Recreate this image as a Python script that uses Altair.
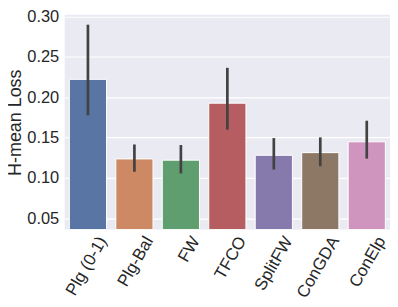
import altair as alt
import pandas as pd

methods = ["Plg (0-1)", "Plg-Bal", "FW", "TFCO", "SplitFW", "ConGDA", "ConElp"]
means = [0.222, 0.1235, 0.122, 0.1925, 0.128, 0.1313, 0.1447]
err_lo = [0.1775, 0.1076, 0.1055, 0.1598, 0.1104, 0.1145, 0.1239]
err_hi = [0.2897, 0.1414, 0.1407, 0.2363, 0.1493, 0.1502, 0.1708]
colors = ["#5975A4", "#CC8963", "#5F9E6E", "#B55D60", "#857AAB", "#8D7866", "#D095BF"]
y_ticks = [0.05, 0.10, 0.15, 0.20, 0.25, 0.30]

df = pd.DataFrame({"method": methods, "mean": means, "lo": err_lo, "hi": err_hi})

font = "Liberation Sans"
x_enc = alt.X("method:N", sort=methods,
              scale=alt.Scale(paddingInner=0.2, paddingOuter=0.1),
              axis=alt.Axis(title=None, labelAngle=-60, labelAlign="right",
                            labelBaseline="middle", labelOffset=15, labelPadding=8,
                            labelFontSize=17, labelFont=font, labelColor="#262626",
                            ticks=False, domain=False, grid=False))
y_scale = alt.Scale(domain=[0.036, 0.302], nice=False, zero=False, clamp=True)

bars = alt.Chart(df).mark_bar(stroke="white", strokeWidth=1).encode(
    x=x_enc,
    y=alt.Y("mean:Q", scale=y_scale,
            axis=alt.Axis(title="H-mean Loss", values=y_ticks, format=".2f",
                          labelFontSize=16.5, labelFont=font, labelColor="#262626",
                          titleFontSize=18, titleFont=font, titleFontWeight="normal",
                          titleColor="#262626", titlePadding=2,
                          ticks=False, domain=False, grid=True,
                          gridColor="white", gridWidth=1.2, labelPadding=6)),
    y2=alt.datum(0.036),
    color=alt.Color("method:N", sort=methods,
                    scale=alt.Scale(domain=methods, range=colors), legend=None),
)

errs = alt.Chart(df).mark_rule(color="#424242", strokeWidth=2.7).encode(
    x=alt.X("method:N", sort=methods),
    y=alt.Y("lo:Q", scale=y_scale),
    y2="hi:Q",
)

chart = (bars + errs).properties(
    width=327, height=216,
    autosize=alt.AutoSizeParams(type="none"),
    padding={"left": 57, "top": 6, "right": 0, "bottom": 76},
).configure(background="white").configure_view(fill="#EAEAF2", stroke=None)

chart.save("out.html", embed_options={"renderer": "svg", "actions": False})
